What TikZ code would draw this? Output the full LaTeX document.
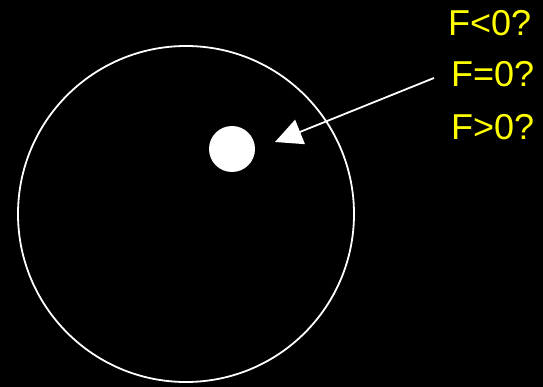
\documentclass[tikz,border=0pt]{standalone}
\usepackage{fontspec}
\setmainfont{Liberation Sans}
\usetikzlibrary{arrows.meta,positioning}
\definecolor{answer}{HTML}{FFFF00}

\begin{document}
\begin{tikzpicture}[x=1pt,y=-1pt]
  \tikzset{
    ring/.style={draw=white, line width=1.8pt, circle, minimum size=336pt, inner sep=0pt},
    blob/.style={fill=white, circle, minimum size=46pt, inner sep=0pt},
    query/.style={text=answer, font=\fontsize{36}{40}\selectfont, anchor=west, inner sep=0pt},
    pointer/.style={draw=white, line width=1.8pt, -{Triangle[length=27pt,width=26pt]}}
  }
  % background
  \fill[black] (0,0) rectangle (543,387);
  \useasboundingbox (0,0) rectangle (543,387);

  % body and particle
  \node[ring] (body) at (186,214) {};
  \node[blob] (dot) at (232,149) {};

  % questions
  \node[query] (lblLt) at (448,23) {F<0?};
  \node[query] (lblEq) at (451,74) {F=0?};
  \node[query] (lblGt) at (451,127) {F>0?};

  % arrow
  \coordinate (tail) at (434,78);
  \coordinate (tip) at (275,142);
  \draw[pointer] (tail) -- (tip);
\end{tikzpicture}
\end{document}
